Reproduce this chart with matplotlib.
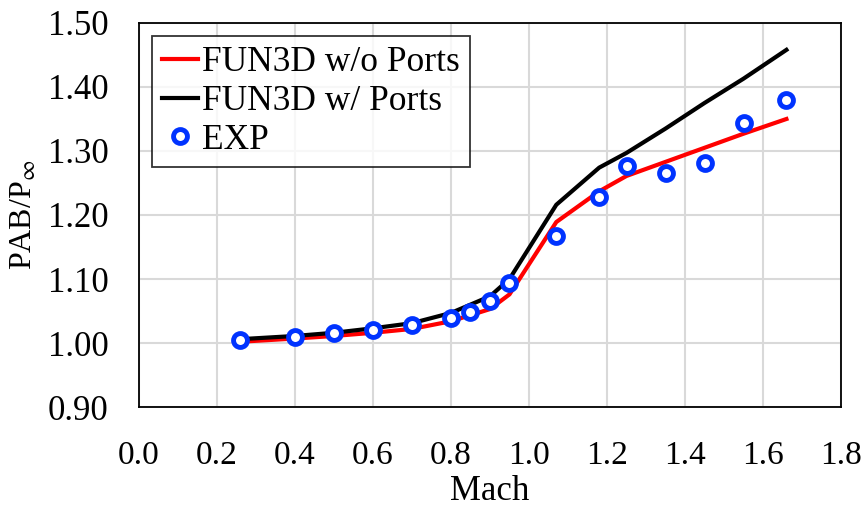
import matplotlib
matplotlib.use("Agg")
import matplotlib.pyplot as plt

plt.rcParams['font.family'] = ['Liberation Serif', 'DejaVu Serif']
plt.rcParams['mathtext.fontset'] = 'stix'

# CFD without ports
mach_cfd = [0.26, 0.4, 0.5, 0.6, 0.7, 0.8, 0.9, 0.95, 1.07, 1.18, 1.25, 1.35, 1.45, 1.55, 1.66]
pab_no_ports = [1.002, 1.007, 1.011, 1.016, 1.022, 1.034, 1.053, 1.076, 1.189, 1.237, 1.261, 1.283, 1.305, 1.327, 1.350]
# CFD with ports
pab_ports = [1.006, 1.011, 1.016, 1.023, 1.031, 1.047, 1.073, 1.100, 1.216, 1.274, 1.297, 1.335, 1.375, 1.413, 1.458]

# experiment
mach_exp = [0.26, 0.4, 0.5, 0.6, 0.7, 0.8, 0.85, 0.9, 0.95, 1.07, 1.18, 1.25, 1.35, 1.45, 1.55, 1.66]
pab_exp = [1.004, 1.009, 1.015, 1.021, 1.028, 1.039, 1.048, 1.065, 1.093, 1.167, 1.228, 1.276, 1.265, 1.281, 1.343, 1.380]

fig = plt.figure(figsize=(8.61, 5.13), dpi=100)
ax = fig.add_axes([0.1614, 0.2066, 0.8154, 0.7486])

ax.plot(mach_cfd, pab_no_ports, color='#FF0000', lw=3, label='FUN3D w/o Ports', zorder=3)
ax.plot(mach_cfd, pab_ports, color='black', lw=3, label='FUN3D w/ Ports', zorder=3)
ax.plot(mach_exp, pab_exp, ls='none', marker='o', ms=10, mew=3.5, mec='#0033FF', mfc='white',
        label='EXP', zorder=4)

ax.set_xlim(0, 1.8)
ax.set_ylim(0.9, 1.5)
ax.set_xticks([0.0, 0.2, 0.4, 0.6, 0.8, 1.0, 1.2, 1.4, 1.6, 1.8])
ax.set_xticklabels(['%.1f' % v for v in ax.get_xticks()])
ax.set_yticks([0.9, 1.0, 1.1, 1.2, 1.3, 1.4, 1.5])
ax.set_yticklabels(['%.2f' % v for v in ax.get_yticks()])
ax.tick_params(length=0)
ax.tick_params(axis='x', pad=24, labelsize=24)
ax.tick_params(axis='y', pad=22, labelsize=25)
ax.grid(True, color='#D9D9D9', lw=1.5)
ax.set_axisbelow(True)
for s in ax.spines.values():
    s.set_linewidth(1.3)

ax.set_xlabel('Mach', fontsize=25, labelpad=3)
ax.set_ylabel('PAB/P$_{\\infty}$', fontsize=23)
ax.yaxis.set_label_coords(-0.142, 0.5)

leg = ax.legend(loc='upper left', fontsize=25.5, frameon=True, fancybox=False, edgecolor='black',
                borderaxespad=0.38, handlelength=1.0, handletextpad=0.12, labelspacing=0.16,
                borderpad=0.28)
leg.get_frame().set_linewidth(1.3)

fig.savefig('out.png', dpi=100)
